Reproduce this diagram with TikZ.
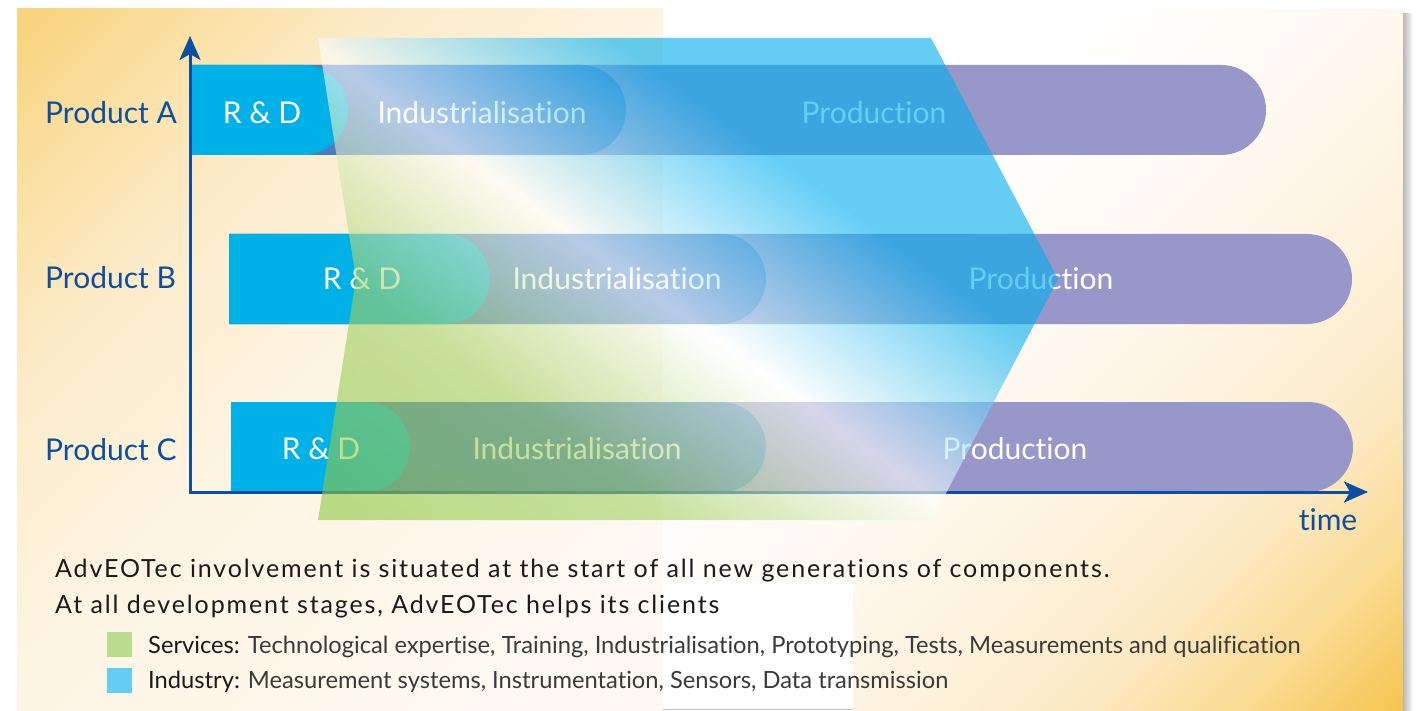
\documentclass[tikz,border=0pt]{standalone}
\usepackage{fontspec}
\usepackage{graphicx}
\setmainfont{Lato}[Ligatures=NoCommon]
\newfontfamily\bodyfont{Lato}[Ligatures=NoCommon, LetterSpace=7.5]
\usetikzlibrary{arrows.meta}
\definecolor{axisblue}{HTML}{0B4EA2}
\definecolor{labelblue}{HTML}{0D4E9E}
\definecolor{rdcyan}{HTML}{00B1E7}
\definecolor{indblue}{HTML}{4A7CC4}
\definecolor{prodpurple}{HTML}{9797C9}
\definecolor{chgreen}{HTML}{8DC63F}
\definecolor{chgreenb}{HTML}{A4D166}
\definecolor{chcyan}{HTML}{00AEEF}
\definecolor{sqgreen}{HTML}{BADC8C}
\definecolor{sqcyan}{HTML}{64CDF3}
\definecolor{bgAa}{HTML}{F8D27A}
\definecolor{bgAb}{HTML}{FADFA0}
\definecolor{bgAc}{HTML}{FCEBC8}
\definecolor{bgAd}{HTML}{FDF4E2}
\definecolor{bgAe}{HTML}{FEFAF3}
\definecolor{bgBa}{HTML}{F5C452}
\definecolor{bgBb}{HTML}{FADB92}
\definecolor{bgBc}{HTML}{FCE8C0}
\definecolor{bgBd}{HTML}{FDF0D6}
\definecolor{bgBe}{HTML}{FEF8EE}
\definecolor{bodyblack}{HTML}{1A1A1A}
\definecolor{leggray}{HTML}{3A3A3A}
\pgfdeclarehorizontalshading{bgAshade}{100bp}{color(0bp)=(bgAa); color(50bp)=(bgAa); color(53.8bp)=(bgAb); color(58.3bp)=(bgAc); color(64.7bp)=(bgAd); color(76bp)=(bgAe); color(100bp)=(bgAe)}
\pgfdeclarehorizontalshading{bgBshade}{100bp}{color(0bp)=(bgBa); color(50bp)=(bgBa); color(53.5bp)=(bgBb); color(56.8bp)=(bgBc); color(60bp)=(bgBd); color(65bp)=(bgBe); color(72bp)=(white); color(100bp)=(white)}
\pgfdeclarehorizontalshading{chevshade}{100bp}{color(0bp)=(chgreen); color(30bp)=(chgreen); color(40bp)=(chgreenb); color(48.4bp)=(white); color(57.5bp)=(chcyan); color(100bp)=(chcyan)}
\begin{document}
\begin{tikzpicture}[x=1pt,y=-1pt,
  bandtext/.style={text=white, font=\fontsize{30}{34}\selectfont, inner sep=0pt, anchor=base},
  prodlabel/.style={text=labelblue, font=\fontsize{30}{34}\selectfont, inner sep=0pt, anchor=base west},
  axisline/.style={draw=axisblue, line width=3pt},
  bodytext/.style={text=bodyblack, font=\bodyfont\fontsize{25}{30}\selectfont, inner sep=0pt, anchor=base west},
  legtext/.style={text=leggray, font=\fontsize{23.7}{27}\selectfont, inner sep=0pt, anchor=base west},
  legsq/.style={minimum size=25pt, inner sep=0pt, draw=none}]
\useasboundingbox (0,0) rectangle (1421,711);
\fill[white] (0,0) rectangle (1421,711);
% background panels
\begin{scope}
  \clip (17,9) rectangle (663,711);
  \shade[shading=bgAshade, shading angle=-45] (-783,-791) rectangle (817,809);
\end{scope}
\begin{scope}
  \clip (663,9) -- (1403,9) -- (1403,711) -- (853,711) -- (853,581) -- (663,581) -- cycle;
  \shade[shading=bgBshade, shading angle=135] (603,-94) rectangle (2203,1506);
\end{scope}
\shade[left color=black!28, right color=white] (1403,14) rectangle (1413,711);
\draw[black!25, line width=1pt] (663,709) -- (853,709);
% band A
\fill[prodpurple] (190,65) -- (1221,65) arc[start angle=90,end angle=-90,radius=45pt] -- (190,155) -- cycle;
\fill[indblue] (190,65) -- (581,65) arc[start angle=90,end angle=-90,radius=45pt] -- (190,155) -- cycle;
\fill[rdcyan] (190,65) -- (303,65) arc[start angle=90,end angle=-90,radius=45pt] -- (190,155) -- cycle;
% band B
\fill[prodpurple] (229,234) -- (1307,234) arc[start angle=90,end angle=-90,radius=45pt] -- (229,324) -- cycle;
\fill[indblue] (229,234) -- (721,234) arc[start angle=90,end angle=-90,radius=45pt] -- (229,324) -- cycle;
\fill[rdcyan] (229,234) -- (445,234) arc[start angle=90,end angle=-90,radius=45pt] -- (229,324) -- cycle;
% band C
\fill[prodpurple] (231,402) -- (1308,402) arc[start angle=90,end angle=-90,radius=45pt] -- (231,492) -- cycle;
\fill[indblue] (231,402) -- (721,402) arc[start angle=90,end angle=-90,radius=45pt] -- (231,492) -- cycle;
\fill[rdcyan] (231,402) -- (365,402) arc[start angle=90,end angle=-90,radius=45pt] -- (231,492) -- cycle;
% band texts
\node[bandtext] (rdA) at (262,124) {R \& D};
\node[bandtext] (indA) at (482,124) {Industrialisation};
\node[bandtext] (prodA) at (874,124) {Production};
\node[bandtext] (rdB) at (362,290) {R \& D};
\node[bandtext] (indB) at (617,290) {Industrialisation};
\node[bandtext] (prodB) at (1041,290) {Production};
\node[bandtext] (rdC) at (321,459) {R \& D};
\node[bandtext] (indC) at (577,459) {Industrialisation};
\node[bandtext] (prodC) at (1015,459) {Production};
% axes
\coordinate (O) at (190,492);
\coordinate (ytop) at (190,36);
\coordinate (xend) at (1368,492);
\draw[axisline, {Stealth[length=24pt,width=21pt,inset=6pt]}-{Stealth[length=24pt,width=21pt,inset=6pt]}] (ytop) -- (O) -- (xend);
% chevron overlay
\begin{scope}
  \clip (318,38) -- (931,38) -- (1058,279) -- (932,520) -- (318,520) -- (356,279) -- cycle;
  \shade[shading=chevshade, shading angle=54, opacity=0.6] (188,-221) rectangle (1188,779);
\end{scope}
% labels
\node[prodlabel] (pA) at (45,124) {Product A};
\node[prodlabel] (pB) at (45,289) {Product B};
\node[prodlabel] (pC) at (45,460) {Product C};
\node[text=labelblue, font=\fontsize{30}{34}\selectfont, inner sep=0pt, anchor=base] (time) at (1328,530) {time};
% text
\node[bodytext] (line1) at (55,577) {AdvEOTec involvement is situated at the start of all new generations of components.};
\node[bodytext] (line2) at (55,613) {At all development stages, AdvEOTec helps its clients};
\node[legsq, fill=sqgreen] (sqS) at (119,644) {};
\node[legsq, fill=sqcyan] (sqI) at (119,680) {};
\node[legtext] (legS) at (148,653) {\textcolor{bodyblack}{Services:} Technological expertise, Training, Industrialisation, Prototyping, Tests, Measurements and qualification};
\node[legtext] (legI) at (148,688) {\textcolor{bodyblack}{Industry:} Measurement systems, Instrumentation, Sensors, Data transmission};
\end{tikzpicture}
\end{document}
